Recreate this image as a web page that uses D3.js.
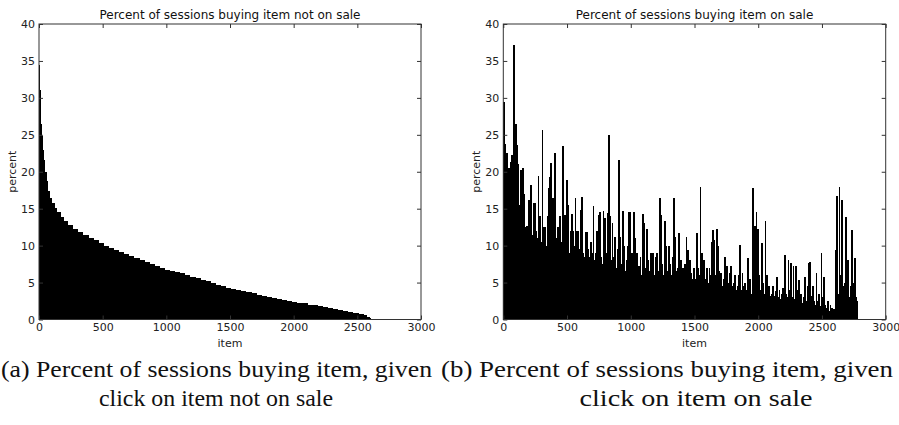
<!DOCTYPE html>
<html><head><meta charset="utf-8">
<script src="https://cdn.jsdelivr.net/npm/d3@7"></script>
<style>
html,body{margin:0;padding:0;background:#fff;}
svg{display:block;}
.tick text{font-family:"DejaVu Sans",sans-serif;font-size:11px;fill:#222;}
</style></head>
<body>
<svg id="c" width="899" height="425"></svg>
<script>
// ---------- data ----------
const xTicks = [0, 500, 1000, 1500, 2000, 2500, 3000];
const yTicks = [0, 5, 10, 15, 20, 25, 30, 35, 40];

// (a) not on sale: item index where each step starts, and percent
const notSaleItems = [0,2,5,9,14,20,28,38,50,65,80,95,115,135,160,190,220,260,300,340,380,420,460,500,540,580,620,660,700,740,780,820,860,900,940,980,1020,1060,1100,1140,1180,1220,1260,1300,1340,1380,1420,1460,1500,1540,1580,1620,1660,1700,1740,1780,1820,1860,1900,1940,1980,2020,2060,2100,2140,2180,2220,2260,2300,2340,2380,2420,2460,2500,2540,2570,2590,2600];
const notSalePct = [34.5,31,28.3,26.5,24.8,23.0,21.6,20.0,18.7,17.4,16.5,15.8,15.1,14.5,13.9,13.3,12.8,12.2,11.8,11.4,11.0,10.7,10.3,9.95,9.65,9.35,9.1,8.8,8.55,8.3,8.05,7.8,7.5,7.25,6.95,6.72,6.55,6.4,6.25,6.05,5.8,5.6,5.38,5.15,4.93,4.7,4.5,4.33,4.17,4.02,3.86,3.7,3.52,3.37,3.22,3.07,2.95,2.82,2.68,2.55,2.42,2.3,2.17,2.03,1.9,1.78,1.65,1.53,1.4,1.28,1.15,1.03,0.88,0.72,0.55,0.35,0.15,0.08];
const notSaleEnd = 2776;

// (b) on sale: percent per block of 10 items (items 0..2779)
const saleBlock = 10;
const salePct = [
29.5,23.8,22.6,17.5,20.5,21.3,22.2,19.5,37.1,26.5,
23.6,21.0,15.5,20.2,13.0,20.5,17.0,12.5,12.6,16.2,
16.2,18.2,11.5,15.8,15.8,12.0,11.0,19.4,14.0,10.5,
25.6,12.5,12.5,10.0,14.0,17.8,19.3,21.2,16.4,12.5,
22.6,11.0,12.5,9.5,14.0,10.5,23.5,14.2,14.2,18.9,
15.5,9.0,12.0,14.3,12.0,10.0,16.4,12.0,12.0,9.5,
14.8,16.6,9.0,8.5,11.8,11.8,9.5,8.5,10.5,9.0,
15.4,8.0,9.0,12.0,14.2,14.5,8.5,7.5,14.7,13.8,
9.0,14.4,25.0,14.0,8.0,13.0,8.5,11.2,7.0,9.5,
21.6,11.2,7.5,14.7,9.9,6.5,8.0,10.0,14.6,14.6,
9.0,8.0,14.5,11.0,9.0,6.5,7.2,8.5,6.0,14.3,
13.0,7.0,12.2,8.0,6.5,9.0,7.0,9.0,6.0,8.5,
9.0,6.5,16.4,14.1,7.5,6.0,13.3,10.0,6.5,10.0,
7.5,6.0,8.5,16.5,11.2,6.5,7.0,11.7,6.0,8.0,
7.0,5.5,7.5,11.2,9.4,6.0,8.0,6.3,5.5,7.0,
5.5,11.7,7.0,6.0,18.0,9.0,6.7,8.0,5.5,7.0,
5.0,7.0,6.0,10.5,12.1,10.8,6.0,12.2,10.0,6.5,
6.3,4.5,5.5,8.5,4.5,7.2,5.0,6.3,7.2,4.5,
5.0,6.0,4.0,4.5,6.0,10.1,4.0,6.3,4.5,5.0,
4.0,8.3,4.5,5.5,3.5,17.8,8.0,12.7,14.6,12.3,
6.0,4.0,10.3,5.0,3.5,13.4,6.0,3.5,4.5,3.2,
3.5,4.5,3.2,3.8,5.7,3.0,4.0,2.8,3.5,4.2,
8.7,3.5,3.0,8.0,4.0,7.6,3.0,7.2,2.8,7.2,
4.0,5.4,2.5,3.5,2.2,3.0,5.7,2.5,4.5,7.6,
7.8,3.2,4.5,2.5,2.0,6.3,2.5,3.5,1.8,9.0,
3.0,5.7,2.0,1.6,2.5,1.2,2.0,1.6,1.0,1.4,
9.4,16.7,3.5,18.0,6.0,16.2,4.5,5.0,13.9,6.5,
8.0,3.0,4.5,12.1,5.0,8.3,3.0,2.5
];

const titles = ["Percent of sessions buying item not on sale", "Percent of sessions buying item on sale"];
const captions = [
  ["(a) Percent of sessions buying item, given", "click on item not on sale"],
  ["(b) Percent of sessions buying item, given", "click on item on sale"]
];

// ---------- drawing ----------
const svg = d3.select("#c");
const panels = [
  {x0: 39, x1: 421},
  {x0: 503.3, x1: 885.7}
];
const yTop = 24, yBot = 319.5;

function drawPanel(i) {
  const p = panels[i];
  const x = d3.scaleLinear().domain([0, 3000]).range([p.x0, p.x1]);
  const y = d3.scaleLinear().domain([0, 40]).range([yBot, yTop]);
  const g = svg.append("g");

  // bars
  if (i === 0) {
    g.selectAll("rect.bar").data(notSalePct).join("rect")
      .attr("class", "bar")
      .attr("x", (d, k) => x(notSaleItems[k]))
      .attr("width", (d, k) => {
        const last = k + 1 >= notSaleItems.length;
        const w = x(last ? notSaleEnd : notSaleItems[k + 1]) - x(notSaleItems[k]);
        return last ? w : w + 1.2;
      })
      .attr("y", d => y(d))
      .attr("height", d => Math.max(0.8, y(0) - y(d)))
      .attr("fill", "#000")
      .attr("shape-rendering", "crispEdges");
  } else {
    g.selectAll("rect.bar").data(salePct).join("rect")
      .attr("class", "bar")
      .attr("x", (d, k) => x(k * saleBlock))
      .attr("width", x(saleBlock) - x(0) + 0.5)
      .attr("y", d => y(d))
      .attr("height", d => y(0) - y(d))
      .attr("fill", "#000")
      .attr("shape-rendering", "crispEdges");
  }

  // frame
  g.append("rect")
    .attr("x", p.x0).attr("y", yTop)
    .attr("width", p.x1 - p.x0).attr("height", yBot - yTop)
    .attr("fill", "none").attr("stroke", "#333").attr("stroke-width", 1);

  // axes with inward ticks
  const ax = g.append("g").attr("transform", `translate(0,${yBot})`)
    .call(d3.axisBottom(x).tickValues(xTicks).tickSizeInner(-4).tickSizeOuter(0).tickPadding(4).tickFormat(d3.format("d")));
  const axTop = g.append("g").attr("transform", `translate(0,${yTop})`)
    .call(d3.axisTop(x).tickValues(xTicks).tickSizeInner(-4).tickSizeOuter(0).tickFormat(""));
  const ay = g.append("g").attr("transform", `translate(${p.x0},0)`)
    .call(d3.axisLeft(y).tickValues(yTicks).tickSizeInner(-4).tickSizeOuter(0).tickPadding(4).tickFormat(d3.format("d")));
  const ayR = g.append("g").attr("transform", `translate(${p.x1},0)`)
    .call(d3.axisRight(y).tickValues(yTicks).tickSizeInner(-4).tickSizeOuter(0).tickFormat(""));
  [ax, axTop, ay, ayR].forEach(a => {
    a.select(".domain").remove();
    a.selectAll(".tick line").attr("stroke", "#333");
  });
  ax.selectAll(".tick text").attr("y", 4).attr("dy", "0.71em");

  // title
  g.append("text")
    .attr("x", (p.x0 + p.x1) / 2).attr("y", 19)
    .attr("text-anchor", "middle")
    .style("font-family", "DejaVu Sans, sans-serif").style("font-size", "12px").style("fill", "#111")
    .text(titles[i]);

  // axis labels
  g.append("text")
    .attr("x", (p.x0 + p.x1) / 2).attr("y", 347)
    .attr("text-anchor", "middle")
    .style("font-family", "DejaVu Sans, sans-serif").style("font-size", "11px").style("fill", "#222")
    .text("item");
  g.append("text")
    .attr("transform", `translate(${p.x0 - 23},${(yTop + yBot) / 2}) rotate(-90)`)
    .attr("text-anchor", "middle")
    .style("font-family", "DejaVu Sans, sans-serif").style("font-size", "11px").style("fill", "#222")
    .text("percent");
}
drawPanel(0);
drawPanel(1);

// captions
const capStyle = sel => sel.style("font-family", "'Liberation Serif', 'DejaVu Serif', serif").style("font-size", "23px").style("fill", "#111");
const capLine1 = [{x: 1, w: 431}, {x: 441, w: 452}];
const capLine2 = [{cx: 216, w: 234}, {cx: 696, w: 233}];
captions.forEach((c, i) => {
  svg.append("text").attr("x", capLine1[i].x).attr("y", 377)
    .attr("textLength", capLine1[i].w).attr("lengthAdjust", "spacingAndGlyphs")
    .call(capStyle).text(c[0]);
  svg.append("text").attr("x", capLine2[i].cx - capLine2[i].w / 2).attr("y", 406)
    .attr("textLength", capLine2[i].w).attr("lengthAdjust", "spacingAndGlyphs")
    .call(capStyle).text(c[1]);
});
</script>
</body></html>
